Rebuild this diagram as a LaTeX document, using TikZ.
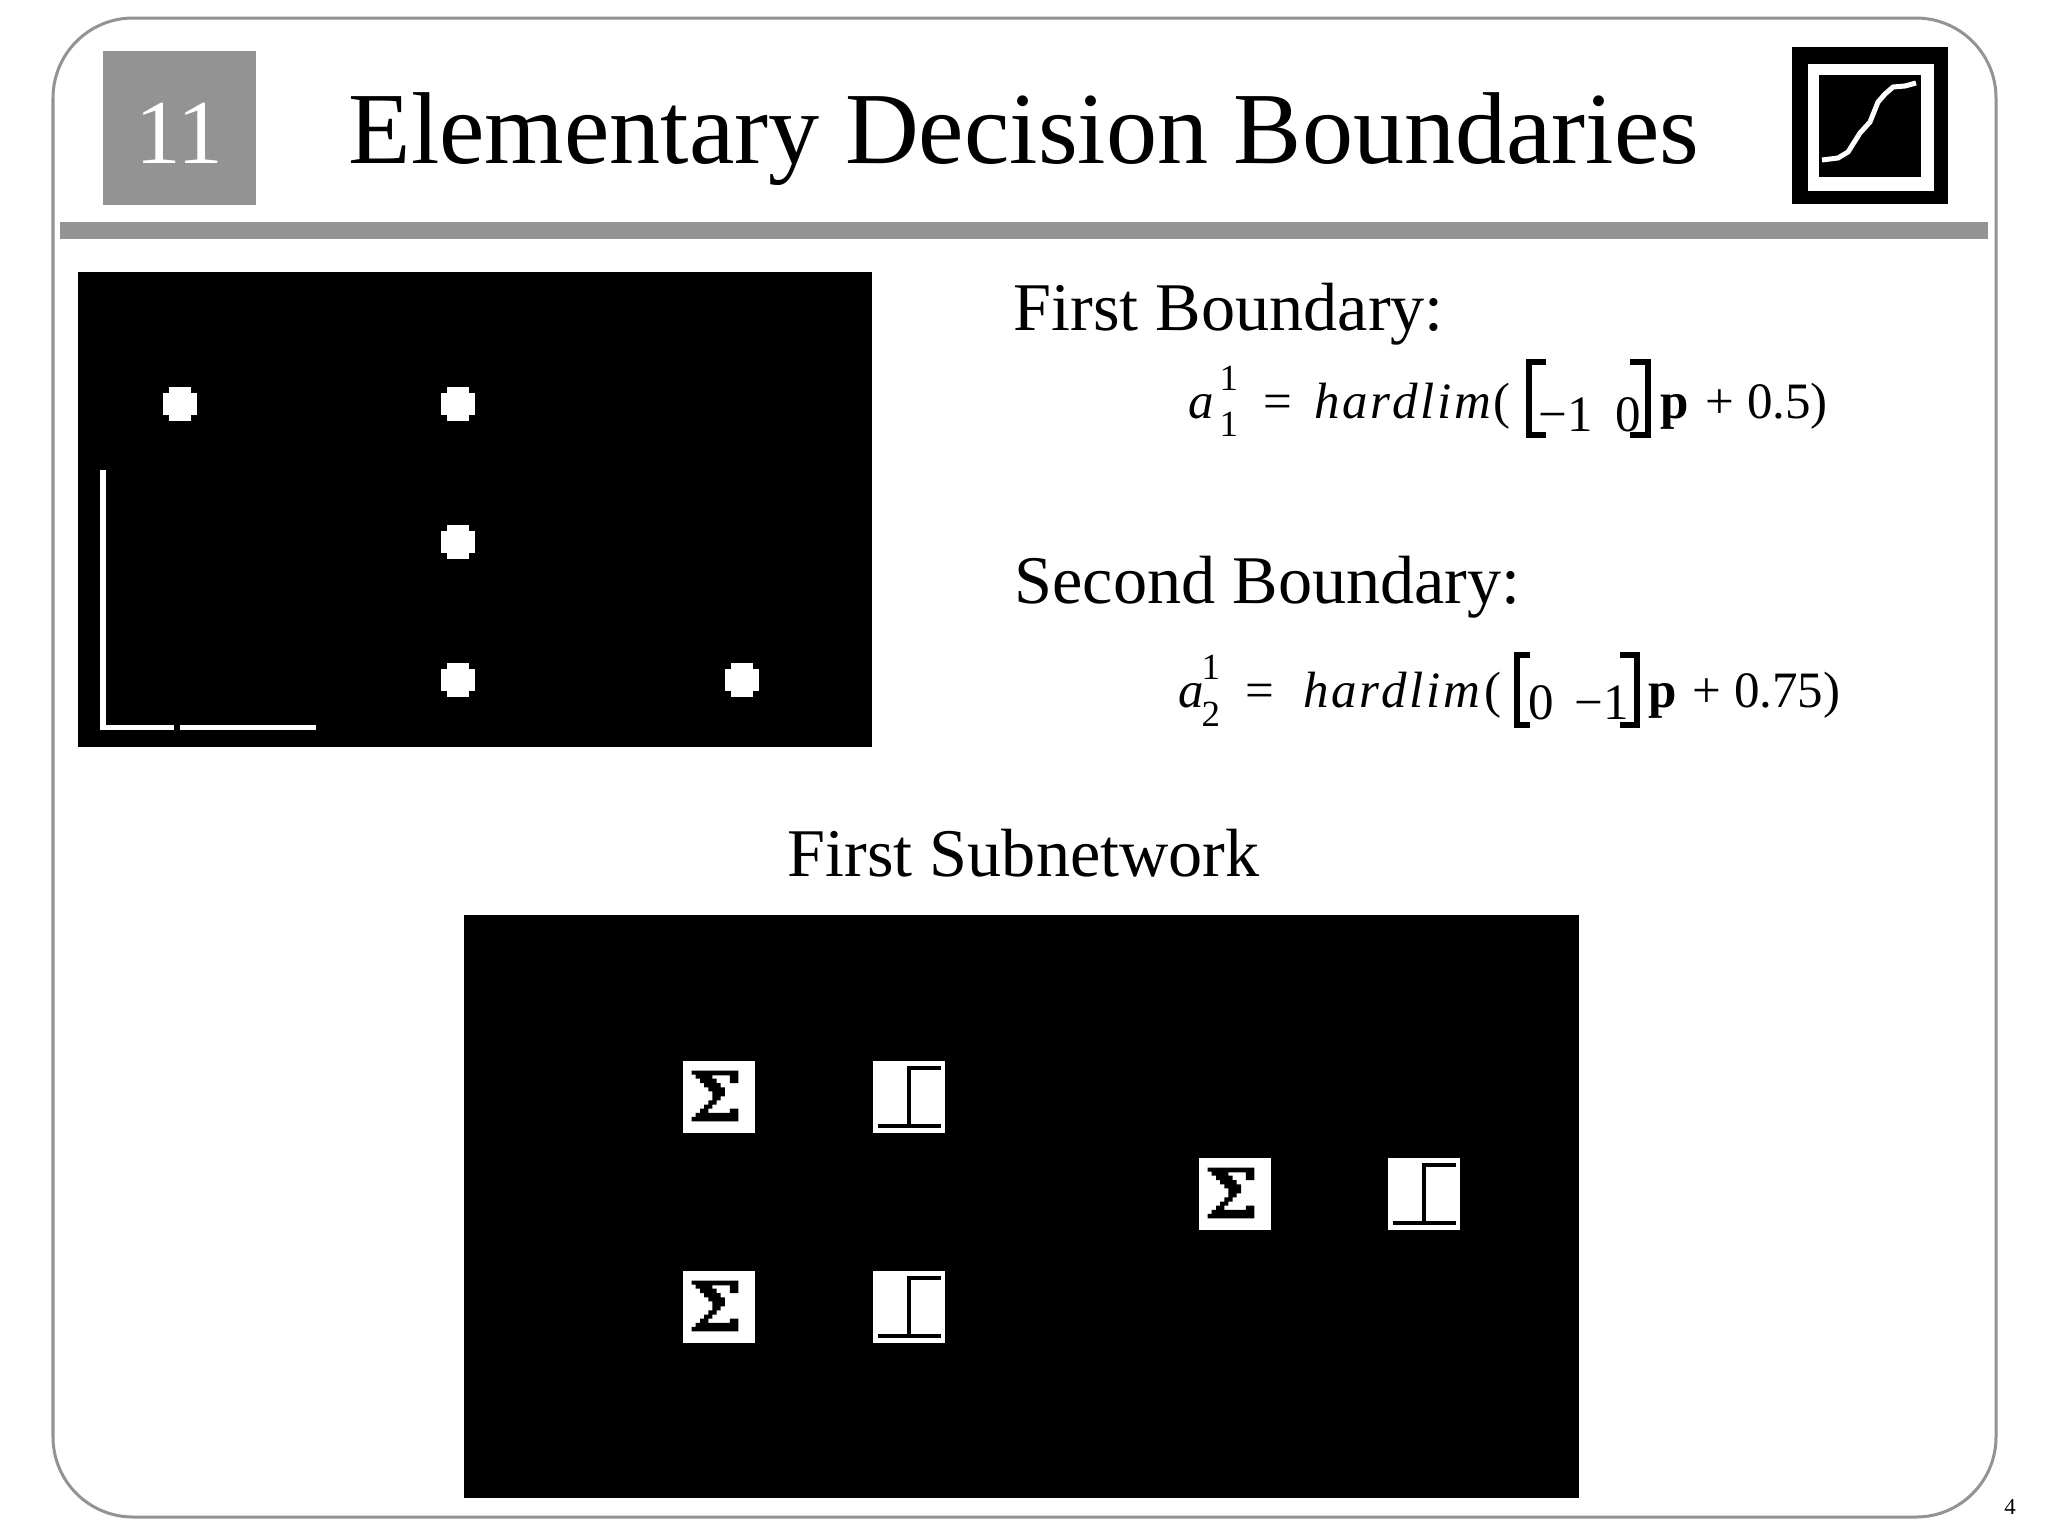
\documentclass[tikz,border=0pt]{standalone}
\usepackage{fontspec}
\usepackage{tikz}
\setmainfont{Liberation Serif}
\usetikzlibrary{calc,positioning}
\definecolor{slidegrey}{gray}{0.575}
\newcommand{\hardlimtext}{h\kern.7pt a\kern.7pt r\kern.7pt d\kern.7pt l\kern.7pt i\kern.7pt m}

\begin{document}
\begin{tikzpicture}[x=0.01cm,y=-0.01cm]

\tikzset{slidetext/.style={font=\fontsize{19.4pt}{22pt}\selectfont,inner sep=0pt,anchor=base west},
eqtext/.style={font=\fontsize{14.5pt}{16pt}\selectfont,inner sep=0pt,anchor=base west},
eqitext/.style={eqtext,font=\fontsize{14.5pt}{16pt}\selectfont\itshape},
eqbold/.style={eqtext,font=\fontsize{14.5pt}{16pt}\selectfont\bfseries},
eqsmall/.style={font=\fontsize{10.5pt}{12pt}\selectfont,inner sep=0pt,anchor=base west},
iconbox/.style={fill=white,draw=none,inner sep=0pt,minimum size=0.72cm,shape=rectangle}}

\useasboundingbox (0,0) rectangle (2048,1536);
\fill[white] (0,0) rectangle (2048,1536);

% Frame
\draw[color=slidegrey,line width=0.3mm,rounded corners=0.8cm] (53,18) rectangle (1996,1517);
\fill[slidegrey] (60,222) rectangle (1988,239);

% Title
\node[fill=slidegrey,minimum size=1.53cm,inner sep=0pt] (chapter) at (179.5,128) {};
\node[inner sep=0pt,anchor=base,text=white,font=\fontsize{26pt}{30pt}\selectfont] (number) at (179.5,163) {11};
\node[inner sep=0pt,anchor=base west,font=\fontsize{29.05pt}{32pt}\selectfont] (title) at (348,163) {Elementary Decision Boundaries};

% Logo
\fill[black] (1792,47) rectangle (1948,204);
\fill[white] (1808,64) rectangle (1934,191);
\fill[black] (1819,75) rectangle (1921,177);
\draw[white,line width=0.5mm] (1822,160) -- (1838,158) -- (1848,152) -- (1860,133) -- (1870,122) -- (1878,102) -- (1885,94) -- (1893,87) -- (1905,86) -- (1916,83);

% Boundary panel
\fill[black] (78,272) rectangle (872,747);
\fill[white] (100,470) rectangle (106,730);
\fill[white] (100,725) rectangle (174,730);
\fill[white] (180,725) rectangle (316,730);
\foreach \x/\y in {180/404,458/404,458/542,458/680,742/680} {
  \fill[white] ($(\x,\y)+(-17,-11)$) rectangle ($(\x,\y)+(17,11)$);
  \fill[white] ($(\x,\y)+(-11,-17)$) rectangle ($(\x,\y)+(11,17)$);
}

% Headings
\node[slidetext] (first) at (1013,330) {First Boundary:};
\node[slidetext] (second) at (1014,603) {Second Boundary:};
\node[slidetext] (subnet) at (787,876) {First Subnetwork};

% First equation
\node[eqitext] (a1) at (1188,418) {a};
\node[eqsmall] (sup1) at (1219,390) {1};
\node[eqsmall] (sub1) at (1219,436) {1};
\node[eqtext] (eq1) at (1263,418) {=};
\node[eqitext] (lim1) at (1314,418) {\hardlimtext};
\node[eqtext] (par1) at (1493,418) {(};
\draw[line width=0.6mm] (1546,362) -- (1529,362) -- (1529,435) -- (1546,435);
\node[eqtext] (m11) at (1538,431) {\textminus 1};
\node[eqtext] (m12) at (1615,431) {0};
\draw[line width=0.6mm] (1630,362) -- (1648,362) -- (1648,435) -- (1630,435);
\node[eqbold] (p1) at (1660,418) {p};
\node[eqtext] (rest1) at (1705,418) {+ 0.5)};

% Second equation
\node[eqitext] (a2) at (1178,707) {a};
\node[eqsmall] (sup2) at (1201,679) {1};
\node[eqsmall] (sub2) at (1201,726) {2};
\node[eqtext] (eq2) at (1245,707) {=};
\node[eqitext] (lim2) at (1303,707) {\hardlimtext};
\node[eqtext] (par2) at (1484,707) {(};
\draw[line width=0.6mm] (1530,655) -- (1517,655) -- (1517,725) -- (1530,725);
\node[eqtext] (m21) at (1528,719) {0};
\node[eqtext] (m22) at (1574,719) {\textminus 1};
\draw[line width=0.6mm] (1620,655) -- (1637,655) -- (1637,725) -- (1620,725);
\node[eqbold] (p2) at (1648,707) {p};
\node[eqtext] (rest2) at (1692,707) {+ 0.75)};

% Subnetwork panel
\fill[black] (464,915) rectangle (1579,1498);
\foreach \x/\y/\n in {719/1097/a,719/1307/b,1235/1194/c} {
  \node[iconbox] (sum\n) at (\x,\y) {};
  \fill[black,shift={(sum\n)},x=0.00333cm,y=-0.00333cm] (-82,-79) -- (58,-79) -- (58,-42) -- (33,-42) -- (33,-65) -- (-20,-65) -- (-20,-55) -- (-7,-55) -- (-7,-42) -- (5,-42) -- (5,-29) -- (18,-29) -- (18,-2) -- (5,-2) -- (5,10) -- (-7,10) -- (-7,23) -- (-20,23) -- (-20,35) -- (-32,35) -- (-32,48) -- (33,48) -- (33,35) -- (58,35) -- (58,73) -- (-82,73) -- (-82,60) -- (-70,60) -- (-70,48) -- (-57,48) -- (-57,35) -- (-45,35) -- (-45,23) -- (-32,23) -- (-32,10) -- (-20,10) -- (-20,-17) -- (-32,-17) -- (-32,-29) -- (-45,-29) -- (-45,-42) -- (-57,-42) -- (-57,-55) -- (-70,-55) -- (-70,-67) -- (-82,-67) -- cycle;
}
\foreach \x/\y/\n in {909/1097/a,909/1307/b,1424/1194/c} {
  \node[iconbox] (lim\n) at (\x,\y) {};
  \draw[line width=0.4mm] ($(lim\n)+(32,-29)$) -- ($(lim\n)+(0,-29)$) -- ($(lim\n)+(0,29)$);
  \draw[line width=0.4mm] ($(lim\n)+(-31,29)$) -- ($(lim\n)+(32,29)$);
}

% Page number
\node[inner sep=0pt,font=\fontsize{6.5pt}{8pt}\selectfont] (page) at (2010,1507) {4};

\end{tikzpicture}
\end{document}
